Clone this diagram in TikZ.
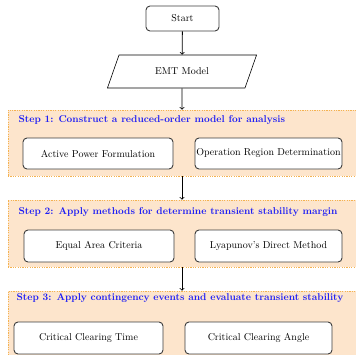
\documentclass[tikz,border=0pt]{standalone}
\usepackage{xcolor}
\usepackage{tikz}
\usetikzlibrary{shapes, shapes.geometric, arrows, positioning}
\definecolor{stepfill}{RGB}{253,229,204}
\definecolor{stepline}{RGB}{244,178,80}
\definecolor{steptext}{RGB}{30,30,245}
\definecolor{boxline}{RGB}{60,60,60}

\tikzset{
    procbox/.style={draw=boxline, line width=0.9pt, rounded corners=4pt, fill=white, align=center},
    iobox/.style={draw=black, line width=0.6pt, trapezium, trapezium left angle=68, trapezium right angle=112, trapezium stretches=true, minimum width=150pt, minimum height=33pt},
    stepframe/.style={fill=stepfill, draw=stepline, dash pattern=on 1.2pt off 1.2pt, line width=0.6pt},
    steptitle/.style={anchor=west, text=steptext, font=\fontsize{9.9pt}{11pt}\selectfont\bfseries},
    flow/.style={thick, ->}
}

\begin{document}
\begin{tikzpicture}[x=1pt, y=-1pt]
            \useasboundingbox (0,0) rectangle (356,354);
            % start and model
            \node[procbox, minimum width=73pt, minimum height=25pt] (start) at (182.5,18.5) {Start};
            \node[iobox] (emt) at (182,71.5) {EMT Model};
            % step frames
            \node[stepframe, minimum width=362pt, minimum height=66pt] (step1) at (189,143) {};
            \node[stepframe, minimum width=362pt, minimum height=67pt] (step2) at (189,233.5) {};
            \node[stepframe, minimum width=362pt, minimum height=89pt] (step3) at (189,335.5) {};
            \node[steptitle] (title1) at (15,120) {Step 1: Construct a reduced-order model for analysis};
            \node[steptitle] (title2) at (15,212) {Step 2: Apply methods for determine transient stability margin};
            \node[steptitle] (title3) at (13,298) {Step 3: Apply contingency events and evaluate transient stability};
            % step 1
            \node[procbox, minimum width=150pt, minimum height=31pt] (apf) at (98,153.5) {Active Power Formulation};
            \node[procbox, minimum width=147pt, minimum height=31pt, inner xsep=1pt] (ord) at (268.5,153.5) {Operation Region Determination};
            % step 2
            \node[procbox, minimum width=150pt, minimum height=32pt] (eac) at (99,246) {Equal Area Criteria};
            \node[procbox, minimum width=147pt, minimum height=32pt] (ldm) at (268.5,246) {Lyapunov's Direct Method};
            % step 3
            \node[procbox, minimum width=149pt, minimum height=32pt] (cct) at (88.5,338) {Critical Clearing Time};
            \node[procbox, minimum width=147pt, minimum height=32pt] (cca) at (258.5,338) {Critical Clearing Angle};
            % arrows
            \draw[flow] (start) -- (emt);
            \draw[flow] (emt) -- (emt |- step1.north);
            \draw[flow] (emt |- step1.south) -- (emt |- step2.north);
            \draw[flow] (emt |- step2.south) -- (emt |- step3.north);
        \end{tikzpicture}
\end{document}
